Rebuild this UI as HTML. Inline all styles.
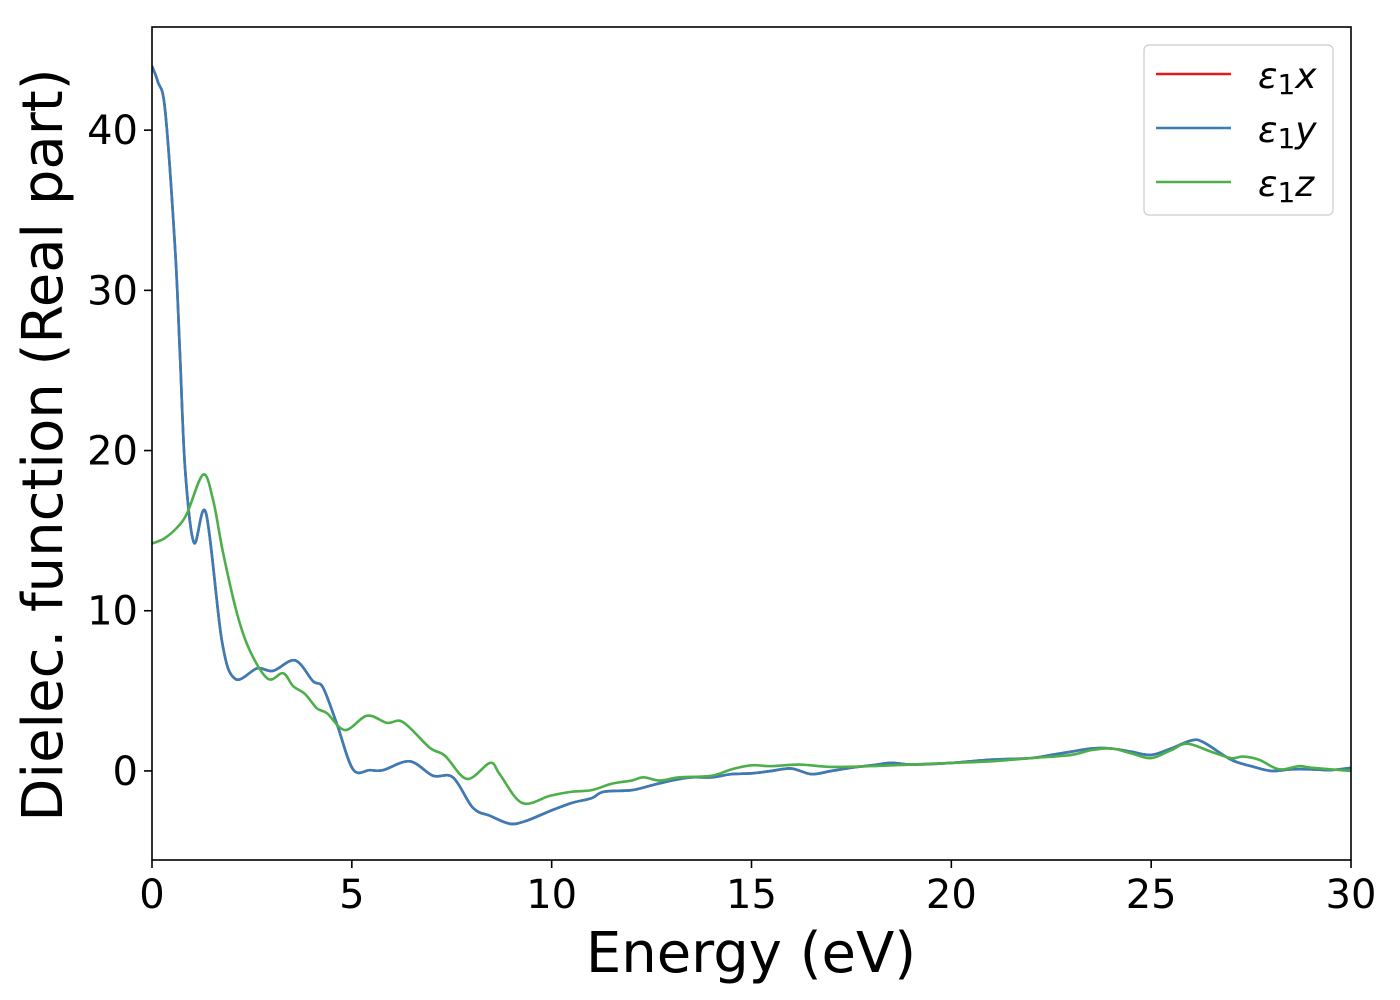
<!DOCTYPE html>
<html><head><meta charset="utf-8"><style>
html,body{margin:0;padding:0;background:#fff;}
svg{display:block;font-family:"DejaVu Sans","Liberation Sans",sans-serif;}
</style></head><body>
<svg id="chart" width="1400" height="1000" viewBox="0 0 1400 1000">
<rect width="1400" height="1000" fill="#fff"/>
<g id="series"></g>
<g id="xticks"></g>
<g id="yticks"></g>
<rect x="152" y="27" width="1199" height="833" fill="none" stroke="#000" stroke-width="1.6"/>
<text x="751" y="972" font-size="56" text-anchor="middle">Energy (eV)</text>
<text transform="translate(62,445) rotate(-90)" font-size="56" text-anchor="middle">Dielec. function (Real part)</text>
<g>
<rect x="1144" y="45" width="189" height="170" rx="5" fill="#fff" fill-opacity="0.8" stroke="#ccc" stroke-width="1.2"/>
<g><line x1="1156" y1="74" x2="1231" y2="74" stroke="#e41a1c" stroke-width="2.5"/><text x="1258" y="88" font-size="36" font-style="italic">ε<tspan font-style="normal" font-size="28" dy="6">1</tspan><tspan dy="-6">x</tspan></text></g>
<g><line x1="1156" y1="128" x2="1231" y2="128" stroke="#377eb8" stroke-width="2.5"/><text x="1258" y="142" font-size="36" font-style="italic">ε<tspan font-style="normal" font-size="28" dy="6">1</tspan><tspan dy="-6">y</tspan></text></g>
<g><line x1="1156" y1="182" x2="1231" y2="182" stroke="#4daf4a" stroke-width="2.5"/><text x="1258" y="196" font-size="36" font-style="italic">ε<tspan font-style="normal" font-size="28" dy="6">1</tspan><tspan dy="-6">z</tspan></text></g>
</g>
</svg>
<script>
const energyXY=[0,0.15,0.33,0.58,0.7,0.83,1.05,1.35,1.75,2.08,2.63,3.03,3.58,4.03,4.28,4.63,5.03,5.45,5.78,6.45,7.03,7.53,8.03,8.46,8.96,9.38,9.96,10.5,11,11.3,12,12.5,13,13.5,14,14.5,15,15.5,16,16.5,17,17.5,18,18.5,19,20,21,22,22.5,23,23.5,24,24.5,25,25.5,26,26.3,27,27.5,28,28.5,29,29.5,30];
const eps1x=[44,43,41.2,32.5,26,18.8,14.25,16.1,8.1,5.75,6.4,6.25,6.9,5.6,5.2,2.9,0.1,0.05,0.05,0.6,-0.3,-0.4,-2.3,-2.8,-3.3,-3.1,-2.5,-2.0,-1.7,-1.3,-1.2,-0.9,-0.6,-0.4,-0.4,-0.2,-0.15,0,0.15,-0.2,0,0.2,0.35,0.5,0.4,0.5,0.7,0.8,1.0,1.2,1.4,1.4,1.2,1.0,1.4,1.9,1.8,0.7,0.3,0,0.1,0.1,0.05,0.2];
const eps1y=[44,43,41.2,32.5,26,18.8,14.25,16.1,8.1,5.75,6.4,6.25,6.9,5.6,5.2,2.9,0.1,0.05,0.05,0.6,-0.3,-0.4,-2.3,-2.8,-3.3,-3.1,-2.5,-2.0,-1.7,-1.3,-1.2,-0.9,-0.6,-0.4,-0.4,-0.2,-0.15,0,0.15,-0.2,0,0.2,0.35,0.5,0.4,0.5,0.7,0.8,1.0,1.2,1.4,1.4,1.2,1.0,1.4,1.9,1.8,0.7,0.3,0,0.1,0.1,0.05,0.2];
const energyZ=[0,0.3,0.63,0.88,1.28,1.53,1.78,2.13,2.45,2.9,3.28,3.53,3.83,4.13,4.38,4.83,5.38,5.88,6.28,6.95,7.33,7.88,8.46,8.7,9.26,9.96,10.5,11,11.5,12,12.3,12.7,13.2,14,14.5,15,15.5,16.2,17,18,19,20,21,22,23,23.5,24,24.5,25,25.5,25.9,26.5,27,27.3,27.7,28.2,28.7,29,30];
const eps1z=[14.2,14.5,15.2,16.1,18.5,16.9,13.6,9.8,7.5,5.75,6.1,5.3,4.8,3.9,3.6,2.55,3.45,3.0,3.05,1.45,0.95,-0.5,0.5,-0.2,-2.0,-1.55,-1.3,-1.2,-0.8,-0.6,-0.4,-0.6,-0.4,-0.3,0.1,0.35,0.3,0.4,0.25,0.3,0.4,0.5,0.6,0.8,1.0,1.3,1.4,1.1,0.8,1.3,1.7,1.2,0.8,0.9,0.7,0.1,0.3,0.2,0];
const xTickLabels=["0","5","10","15","20","25","30"];
const xTickValues=[0,5,10,15,20,25,30];
const yTickLabels=["0","10","20","30","40"];
const yTickValues=[0,10,20,30,40];

const NS="http://www.w3.org/2000/svg";
const X0=152,X1=1351,Y0=860,Y1=27;
const xMin=0,xMax=30,yMin=-5.56,yMax=46.44;
function sx(v){return X0+(v-xMin)/(xMax-xMin)*(X1-X0);}
function sy(v){return Y0-(v-yMin)/(yMax-yMin)*(Y0-Y1);}
function pathFor(xs,ys){
  const p=xs.map((x,i)=>[sx(x),sy(ys[i])]);
  let d="M"+p[0][0].toFixed(2)+","+p[0][1].toFixed(2);
  for(let i=0;i<p.length-1;i++){
    const a=p[i-1]||p[i],b=p[i],c=p[i+1],e=p[i+2]||c;
    const c1=[b[0]+(c[0]-a[0])/6,b[1]+(c[1]-a[1])/6];
    const c2=[c[0]-(e[0]-b[0])/6,c[1]-(e[1]-b[1])/6];
    d+="C"+c1[0].toFixed(2)+","+c1[1].toFixed(2)+" "+c2[0].toFixed(2)+","+c2[1].toFixed(2)+" "+c[0].toFixed(2)+","+c[1].toFixed(2);
  }
  return d;
}
const g=document.getElementById("series");
const defs=document.createElementNS(NS,"clipPath");defs.setAttribute("id","clip");
const cr=document.createElementNS(NS,"rect");cr.setAttribute("x",X0);cr.setAttribute("y",Y1);cr.setAttribute("width",X1-X0);cr.setAttribute("height",Y0-Y1);
defs.appendChild(cr);document.getElementById("chart").appendChild(defs);
g.setAttribute("clip-path","url(#clip)");
function addLine(xs,ys,color,name){
  const p=document.createElementNS(NS,"path");
  p.setAttribute("d",pathFor(xs,ys));
  p.setAttribute("fill","none");p.setAttribute("stroke",color);p.setAttribute("stroke-width","2.6");
  p.setAttribute("stroke-linejoin","round");
  
  
  g.appendChild(p);
}
addLine(energyXY,eps1x,"#e41a1c","series-eps1-x");
addLine(energyXY,eps1y,"#377eb8","series-eps1-y");
addLine(energyZ,eps1z,"#4daf4a","series-eps1-z");

const xg=document.getElementById("xticks");
xTickValues.forEach((v,i)=>{
  const x=sx(v);
  const l=document.createElementNS(NS,"line");
  l.setAttribute("x1",x);l.setAttribute("x2",x);l.setAttribute("y1",Y0);l.setAttribute("y2",Y0+8);
  l.setAttribute("stroke","#000");l.setAttribute("stroke-width","1.6");
  
  
  xg.appendChild(l);
  const t=document.createElementNS(NS,"text");
  t.setAttribute("x",x);t.setAttribute("y",Y0+48);t.setAttribute("font-size","40");t.setAttribute("text-anchor","middle");
  t.textContent=xTickLabels[i];
  
  
  xg.appendChild(t);
});
const yg=document.getElementById("yticks");
yTickValues.forEach((v,i)=>{
  const y=sy(v);
  const l=document.createElementNS(NS,"line");
  l.setAttribute("x1",X0-8);l.setAttribute("x2",X0);l.setAttribute("y1",y);l.setAttribute("y2",y);
  l.setAttribute("stroke","#000");l.setAttribute("stroke-width","1.6");
  
  
  yg.appendChild(l);
  const t=document.createElementNS(NS,"text");
  t.setAttribute("x",X0-14);t.setAttribute("y",y+14);t.setAttribute("font-size","40");t.setAttribute("text-anchor","end");
  t.textContent=yTickLabels[i];
  
  
  yg.appendChild(t);
});
</script>
</body></html>
